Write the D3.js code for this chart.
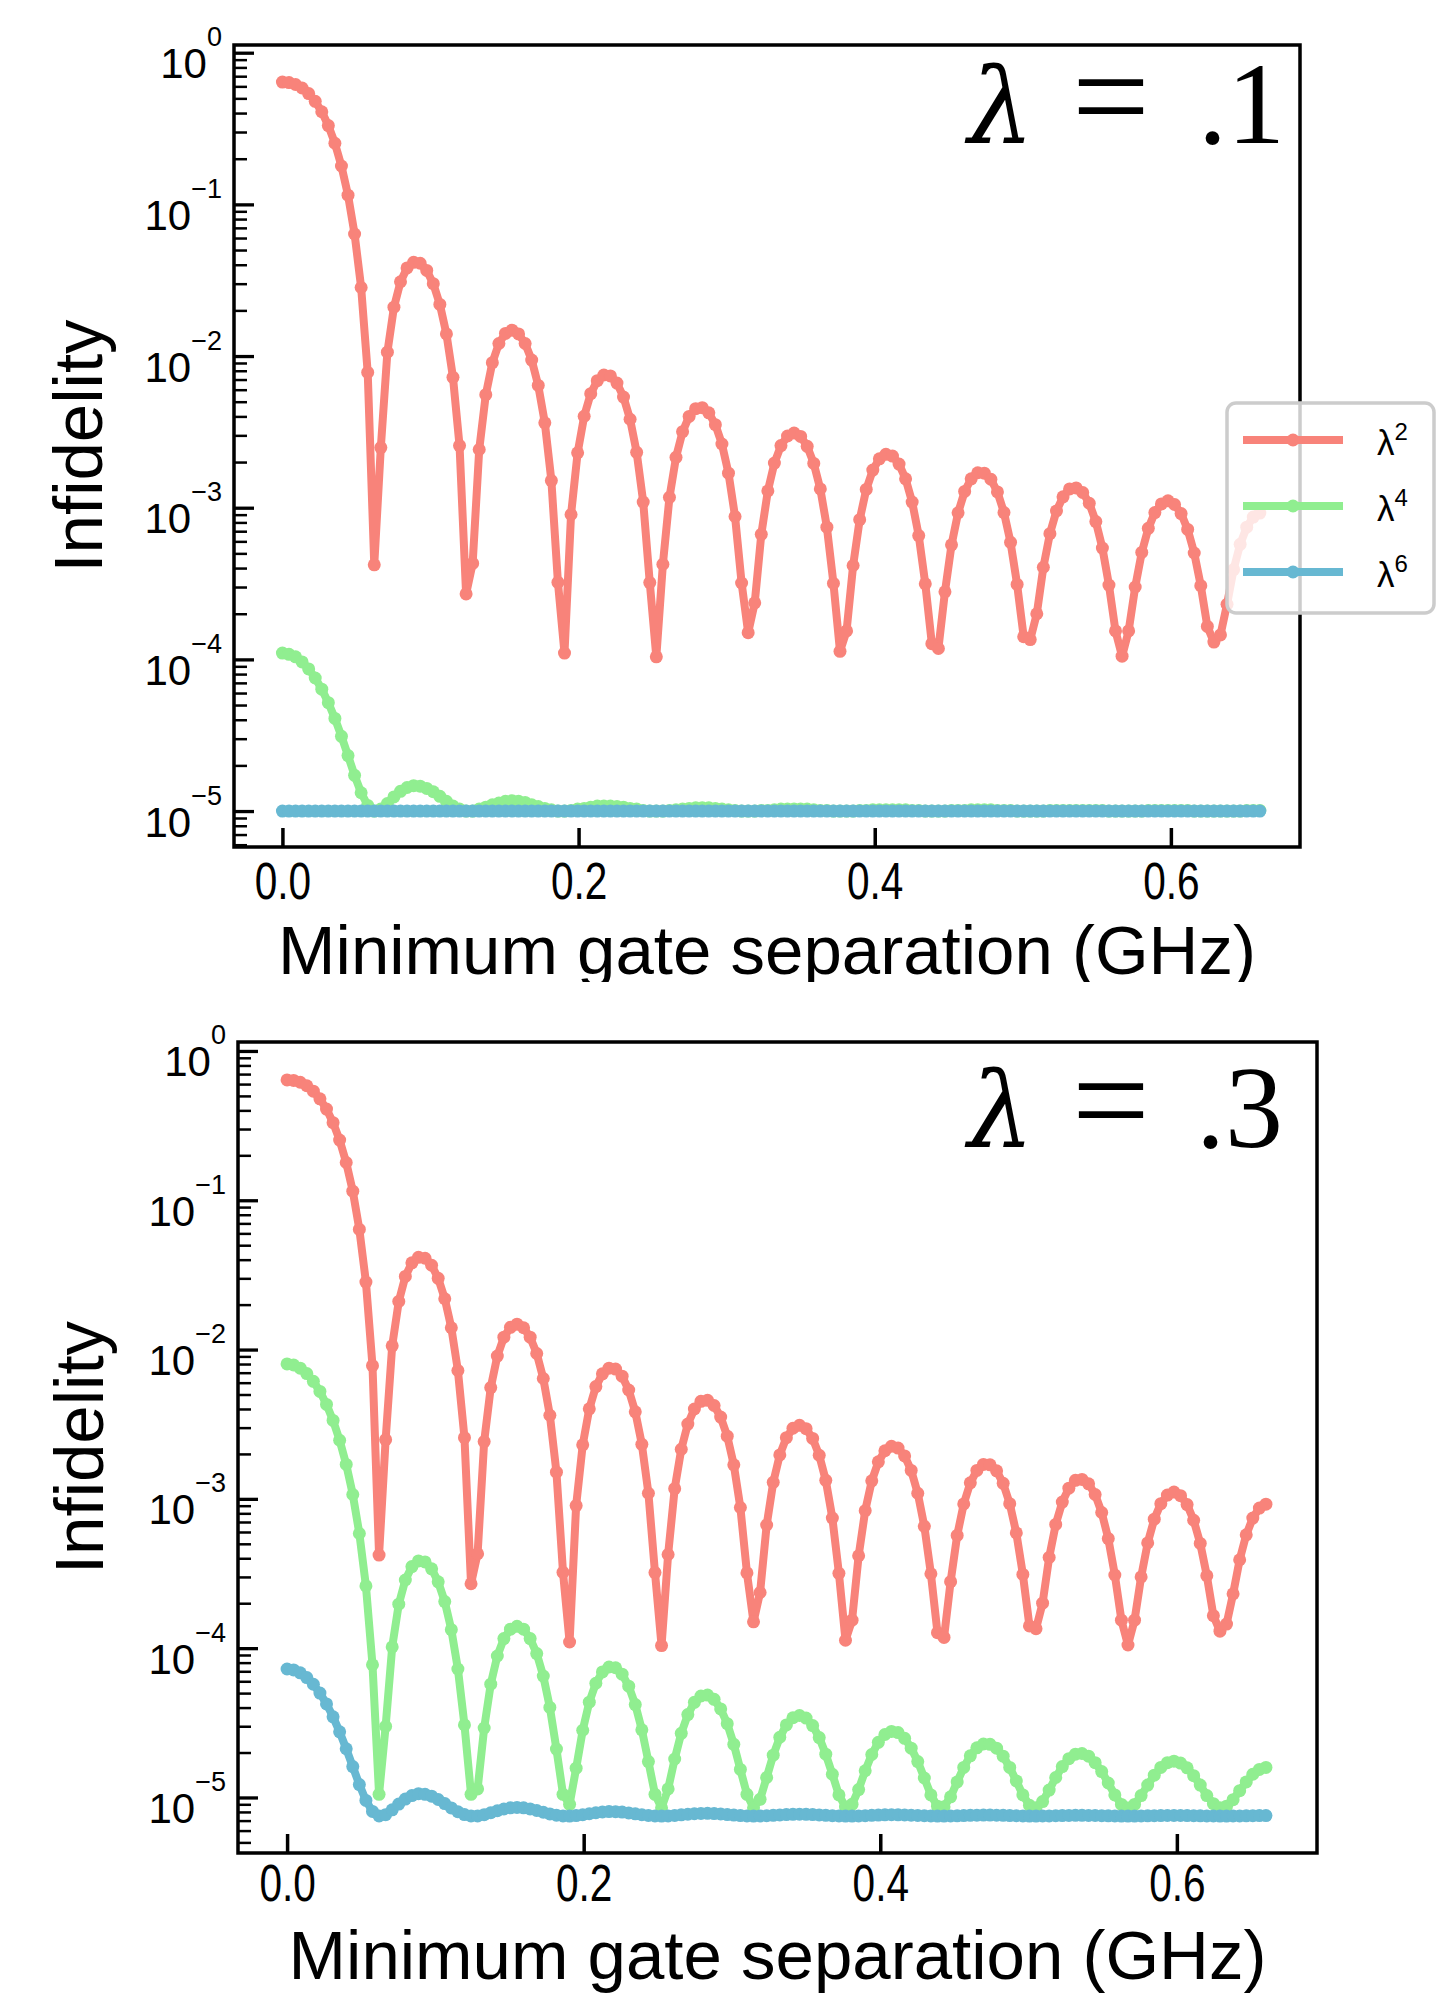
<!DOCTYPE html>
<html>
<head>
<meta charset="utf-8">
<script src="https://cdn.jsdelivr.net/npm/d3@7"></script>
<style>
  body { margin: 0; background: #fff; }
  svg { display: block; }
  text { font-family: "Liberation Sans", Arial, Helvetica, sans-serif; fill: #000; }
</style>
</head>
<body>
<svg id="fig" width="1442" height="2004"></svg>
<script>
// sample spacing of the gate separation grid (GHz)
const xStep = 0.00443;

// lambda^2 term, same in both panels
const lam2 = [
  0.640, 0.635, 0.617, 0.585, 0.538, 0.478, 0.408, 0.331, 0.253, 0.179, 0.115, 0.0638, 0.0283, 0.0078, 4.2e-4,
  2.49e-3, 0.0106, 0.0210, 0.0309, 0.0381, 0.0415, 0.0409, 0.0367, 0.0300, 0.0219, 0.0140, 7.24e-3, 2.57e-3, 2.7e-4, 4.29e-4,
  2.42e-3, 5.56e-3, 9.04e-3, 0.0121, 0.0141, 0.0148, 0.0140, 0.0121, 9.41e-3, 6.40e-3, 3.63e-3, 1.51e-3, 3.22e-4, 1.1e-4, 9.02e-4,
  2.30e-3, 4.01e-3, 5.65e-3, 6.88e-3, 7.50e-3, 7.40e-3, 6.63e-3, 5.36e-3, 3.83e-3, 2.32e-3, 1.09e-3, 3.21e-4, 1.04e-4, 4.24e-4, 1.17e-3,
  2.15e-3, 3.17e-3, 4.00e-3, 4.50e-3, 4.57e-3, 4.22e-3, 3.53e-3, 2.63e-3, 1.69e-3, 8.75e-4, 3.19e-4, 1.5e-4, 2.36e-4, 6.68e-4, 1.29e-3,
  1.97e-3, 2.57e-3, 2.97e-3, 3.11e-3, 2.95e-3, 2.54e-3, 1.96e-3, 1.33e-3, 7.44e-4, 3.17e-4, 1.13e-4, 1.54e-4, 4.16e-4, 8.34e-4, 1.32e-3,
  1.77e-3, 2.10e-3, 2.25e-3, 2.19e-3, 1.94e-3, 1.55e-3, 1.09e-3, 6.55e-4, 3.15e-4, 1.27e-4, 1.18e-4, 2.79e-4, 5.69e-4, 9.25e-4, 1.28e-3,
  1.55e-3, 1.70e-3, 1.69e-3, 1.54e-3, 1.27e-3, 9.29e-4, 5.91e-4, 3.12e-4, 1.41e-4, 1.35e-4, 2.00e-4, 4.05e-4, 6.74e-4, 9.52e-4, 1.18e-3,
  1.33e-3, 1.35e-3, 1.26e-3, 1.07e-3, 8.10e-4, 5.42e-4, 3.09e-4, 1.54e-4, 1.05e-4, 1.54e-4, 3.00e-4, 5.07e-4, 7.31e-4, 9.29e-4, 1.06e-3,
  1.11e-3, 1.05e-3, 9.15e-4, 7.19e-4, 5.03e-4, 3.06e-4, 1.65e-4, 1.30e-4, 1.45e-4, 2.31e-4, 3.91e-4, 5.74e-4, 7.44e-4, 8.68e-4, 9.22e-4
];

// lambda = .1 panel
const lam4Top = [
  1.10e-4, 1.08e-4, 1.04e-4, 9.62e-5, 8.65e-5, 7.54e-5, 6.36e-5, 5.18e-5, 4.08e-5, 3.11e-5, 2.32e-5, 1.72e-5, 1.32e-5, 1.09e-5, 1.00e-5,
  1.03e-5, 1.12e-5, 1.24e-5, 1.35e-5, 1.43e-5, 1.47e-5, 1.46e-5, 1.41e-5, 1.34e-5, 1.25e-5, 1.16e-5, 1.08e-5, 1.03e-5, 1.00e-5, 1.00e-5,
  1.03e-5, 1.06e-5, 1.10e-5, 1.13e-5, 1.16e-5, 1.17e-5, 1.16e-5, 1.14e-5, 1.10e-5, 1.07e-5, 1.04e-5, 1.02e-5, 1.00e-5, 1.00e-5, 1.01e-5,
  1.03e-5, 1.04e-5, 1.06e-5, 1.08e-5, 1.08e-5, 1.08e-5, 1.07e-5, 1.06e-5, 1.04e-5, 1.03e-5, 1.01e-5, 1.00e-5, 1.00e-5, 1.00e-5, 1.01e-5,
  1.02e-5, 1.03e-5, 1.04e-5, 1.05e-5, 1.05e-5, 1.05e-5, 1.04e-5, 1.03e-5, 1.02e-5, 1.01e-5, 1.00e-5, 1.00e-5, 1.00e-5, 1.01e-5, 1.01e-5,
  1.02e-5, 1.03e-5, 1.03e-5, 1.03e-5, 1.03e-5, 1.03e-5, 1.02e-5, 1.01e-5, 1.01e-5, 1.00e-5, 1.00e-5, 1.00e-5, 1.00e-5, 1.01e-5, 1.01e-5,
  1.02e-5, 1.02e-5, 1.02e-5, 1.02e-5, 1.02e-5, 1.02e-5, 1.01e-5, 1.01e-5, 1.00e-5, 1.00e-5, 1.00e-5, 1.00e-5, 1.01e-5, 1.01e-5, 1.01e-5,
  1.02e-5, 1.02e-5, 1.02e-5, 1.02e-5, 1.01e-5, 1.01e-5, 1.01e-5, 1.00e-5, 1.00e-5, 1.00e-5, 1.00e-5, 1.00e-5, 1.01e-5, 1.01e-5, 1.01e-5,
  1.01e-5, 1.01e-5, 1.01e-5, 1.01e-5, 1.01e-5, 1.01e-5, 1.00e-5, 1.00e-5, 1.00e-5, 1.00e-5, 1.00e-5, 1.00e-5, 1.01e-5, 1.01e-5, 1.01e-5,
  1.01e-5, 1.01e-5, 1.01e-5, 1.01e-5, 1.00e-5, 1.00e-5, 1.00e-5, 1.00e-5, 1.00e-5, 1.00e-5, 1.00e-5, 1.00e-5, 1.01e-5, 1.01e-5, 1.01e-5
];
const lam6Top = [
  1e-5, 1e-5, 1e-5, 1e-5, 1e-5, 1e-5, 1e-5, 1e-5, 1e-5, 1e-5, 1e-5, 1e-5, 1e-5, 1e-5, 1e-5,
  1e-5, 1e-5, 1e-5, 1e-5, 1e-5, 1e-5, 1e-5, 1e-5, 1e-5, 1e-5, 1e-5, 1e-5, 1e-5, 1e-5, 1e-5,
  1e-5, 1e-5, 1e-5, 1e-5, 1e-5, 1e-5, 1e-5, 1e-5, 1e-5, 1e-5, 1e-5, 1e-5, 1e-5, 1e-5, 1e-5,
  1e-5, 1e-5, 1e-5, 1e-5, 1e-5, 1e-5, 1e-5, 1e-5, 1e-5, 1e-5, 1e-5, 1e-5, 1e-5, 1e-5, 1e-5,
  1e-5, 1e-5, 1e-5, 1e-5, 1e-5, 1e-5, 1e-5, 1e-5, 1e-5, 1e-5, 1e-5, 1e-5, 1e-5, 1e-5, 1e-5,
  1e-5, 1e-5, 1e-5, 1e-5, 1e-5, 1e-5, 1e-5, 1e-5, 1e-5, 1e-5, 1e-5, 1e-5, 1e-5, 1e-5, 1e-5,
  1e-5, 1e-5, 1e-5, 1e-5, 1e-5, 1e-5, 1e-5, 1e-5, 1e-5, 1e-5, 1e-5, 1e-5, 1e-5, 1e-5, 1e-5,
  1e-5, 1e-5, 1e-5, 1e-5, 1e-5, 1e-5, 1e-5, 1e-5, 1e-5, 1e-5, 1e-5, 1e-5, 1e-5, 1e-5, 1e-5,
  1e-5, 1e-5, 1e-5, 1e-5, 1e-5, 1e-5, 1e-5, 1e-5, 1e-5, 1e-5, 1e-5, 1e-5, 1e-5, 1e-5, 1e-5,
  1e-5, 1e-5, 1e-5, 1e-5, 1e-5, 1e-5, 1e-5, 1e-5, 1e-5, 1e-5, 1e-5, 1e-5, 1e-5, 1e-5, 1e-5
];

// lambda = .3 panel
const lam4Bot = [
  8.01e-3, 7.88e-3, 7.50e-3, 6.90e-3, 6.13e-3, 5.24e-3, 4.29e-3, 3.35e-3, 2.47e-3, 1.70e-3, 1.07e-3, 5.86e-4, 2.61e-4, 7.74e-5, 1.05e-5,
  2.99e-5, 1.02e-4, 1.97e-4, 2.86e-4, 3.52e-4, 3.84e-4, 3.78e-4, 3.40e-4, 2.78e-4, 2.05e-4, 1.33e-4, 7.25e-5, 3.06e-5, 1.05e-5, 1.14e-5,
  2.92e-5, 5.74e-5, 8.86e-5, 1.16e-4, 1.34e-4, 1.40e-4, 1.34e-4, 1.16e-4, 9.20e-5, 6.50e-5, 4.01e-5, 2.11e-5, 1.05e-5, 8.99e-6, 1.57e-5,
  2.82e-5, 4.35e-5, 5.82e-5, 6.93e-5, 7.48e-5, 7.39e-5, 6.70e-5, 5.56e-5, 4.19e-5, 2.84e-5, 1.74e-5, 1.05e-5, 8.53e-6, 1.14e-5, 1.81e-5,
  2.69e-5, 3.59e-5, 4.34e-5, 4.78e-5, 4.85e-5, 4.54e-5, 3.92e-5, 3.12e-5, 2.27e-5, 1.54e-5, 1.05e-5, 8.52e-6, 9.72e-6, 1.36e-5, 1.92e-5,
  2.53e-5, 3.06e-5, 3.42e-5, 3.54e-5, 3.40e-5, 3.03e-5, 2.52e-5, 1.95e-5, 1.43e-5, 1.04e-5, 8.62e-6, 8.99e-6, 1.13e-5, 1.51e-5, 1.94e-5,
  2.34e-5, 2.64e-5, 2.77e-5, 2.72e-5, 2.49e-5, 2.14e-5, 1.74e-5, 1.35e-5, 1.04e-5, 8.74e-6, 8.66e-6, 1.01e-5, 1.27e-5, 1.59e-5, 1.90e-5,
  2.15e-5, 2.28e-5, 2.27e-5, 2.14e-5, 1.89e-5, 1.59e-5, 1.29e-5, 1.04e-5, 8.87e-6, 8.53e-6, 9.39e-6, 1.12e-5, 1.36e-5, 1.61e-5, 1.82e-5,
  1.95e-5, 1.97e-5, 1.89e-5, 1.71e-5, 1.49e-5, 1.25e-5, 1.04e-5, 8.98e-6, 8.50e-6, 8.98e-6, 1.03e-5, 1.21e-5, 1.41e-5, 1.59e-5, 1.71e-5,
  1.75e-5, 1.70e-5, 1.58e-5, 1.40e-5, 1.21e-5, 1.03e-5, 9.08e-6, 8.52e-6, 8.74e-6, 9.67e-6, 1.11e-5, 1.27e-5, 1.43e-5, 1.54e-5, 1.59e-5
];
const lam6Bot = [
  7.25e-5, 7.15e-5, 6.84e-5, 6.35e-5, 5.73e-5, 5.00e-5, 4.23e-5, 3.47e-5, 2.75e-5, 2.12e-5, 1.61e-5, 1.22e-5, 9.55e-6, 8.06e-6, 7.52e-6,
  7.67e-6, 8.26e-6, 9.03e-6, 9.76e-6, 1.03e-5, 1.06e-5, 1.05e-5, 1.02e-5, 9.69e-6, 9.10e-6, 8.51e-6, 8.02e-6, 7.68e-6, 7.52e-6, 7.52e-6,
  7.67e-6, 7.90e-6, 8.15e-6, 8.37e-6, 8.52e-6, 8.57e-6, 8.52e-6, 8.38e-6, 8.18e-6, 7.96e-6, 7.76e-6, 7.60e-6, 7.52e-6, 7.50e-6, 7.56e-6,
  7.66e-6, 7.78e-6, 7.90e-6, 7.99e-6, 8.04e-6, 8.03e-6, 7.98e-6, 7.88e-6, 7.77e-6, 7.66e-6, 7.57e-6, 7.52e-6, 7.50e-6, 7.52e-6, 7.58e-6,
  7.65e-6, 7.72e-6, 7.78e-6, 7.82e-6, 7.83e-6, 7.80e-6, 7.75e-6, 7.68e-6, 7.62e-6, 7.56e-6, 7.52e-6, 7.50e-6, 7.51e-6, 7.54e-6, 7.59e-6,
  7.64e-6, 7.68e-6, 7.71e-6, 7.72e-6, 7.71e-6, 7.68e-6, 7.64e-6, 7.59e-6, 7.55e-6, 7.52e-6, 7.50e-6, 7.50e-6, 7.52e-6, 7.55e-6, 7.59e-6,
  7.62e-6, 7.65e-6, 7.66e-6, 7.65e-6, 7.63e-6, 7.61e-6, 7.57e-6, 7.54e-6, 7.52e-6, 7.50e-6, 7.50e-6, 7.51e-6, 7.53e-6, 7.56e-6, 7.59e-6,
  7.61e-6, 7.62e-6, 7.62e-6, 7.60e-6, 7.59e-6, 7.56e-6, 7.54e-6, 7.52e-6, 7.50e-6, 7.50e-6, 7.51e-6, 7.52e-6, 7.54e-6, 7.56e-6, 7.58e-6,
  7.59e-6, 7.59e-6, 7.58e-6, 7.57e-6, 7.55e-6, 7.53e-6, 7.52e-6, 7.50e-6, 7.50e-6, 7.50e-6, 7.52e-6, 7.53e-6, 7.55e-6, 7.56e-6, 7.57e-6,
  7.57e-6, 7.57e-6, 7.56e-6, 7.55e-6, 7.53e-6, 7.52e-6, 7.51e-6, 7.50e-6, 7.50e-6, 7.51e-6, 7.52e-6, 7.53e-6, 7.55e-6, 7.56e-6, 7.56e-6
];

const xTicks = [0, 0.2, 0.4, 0.6];
const yTickExps = [0, -1, -2, -3, -4, -5];
const legendLabels = ["2", "4", "6"];   // powers of lambda
const colors = ["#f8837a", "#90ee90", "#67b8d2"];

const svg = d3.select("#fig");
svg.append("rect").attr("width", 1442).attr("height", 2004).attr("fill", "#fff");

function drawPanel(p) {
  const g = svg.append("g");
  if (p.clip) {
    svg.append("clipPath").attr("id", p.id + "clip")
      .append("rect").attr("x", 0).attr("y", p.clip[0]).attr("width", 1442).attr("height", p.clip[1] - p.clip[0]);
    g.attr("clip-path", `url(#${p.id}clip)`);
  }
  const x = d3.scaleLinear().domain(p.xDom).range([p.left, p.right]);
  const y = d3.scaleLog().domain(p.yDom).range([p.bottom, p.top]);

  const line = d3.line().x((d, i) => x(i * xStep)).y(d => y(d));

  // series: line + round markers
  p.series.forEach((s, k) => {
    g.append("path").datum(s)
      .attr("d", line).attr("fill", "none")
      .attr("stroke", colors[k]).attr("stroke-width", 8)
      .attr("stroke-linejoin", "round");
    g.append("g").selectAll("circle").data(s).join("circle")
      .attr("cx", (d, i) => x(i * xStep)).attr("cy", d => y(d))
      .attr("r", 6.5).attr("fill", colors[k]);
  });

  // minor ticks on the log axis
  const minor = y.ticks(80).filter(v => Math.abs(Math.log10(v) - Math.round(Math.log10(v))) > 1e-6);
  g.append("g").attr("transform", `translate(${p.left},0)`)
    .call(d3.axisLeft(y).tickValues(minor).tickSize(-13).tickFormat(""))
    .call(a => a.select(".domain").remove())
    .selectAll("line").attr("stroke-width", 2.5);

  // major y ticks with 10^n labels
  const ya = g.append("g").attr("transform", `translate(${p.left},0)`)
    .call(d3.axisLeft(y).tickValues(yTickExps.map(e => Math.pow(10, e))).tickSize(-20).tickPadding(12).tickFormat(""));
  ya.select(".domain").remove();
  ya.selectAll("line").attr("stroke-width", 3.3);
  ya.selectAll(".tick text").each(function (d) {
    const t = d3.select(this).attr("dy", null).attr("y", 25).attr("font-size", 42).attr("font-family", null);
    const e = Math.round(Math.log10(d));
    t.append("tspan").text("10");
    t.append("tspan").attr("dy", -32).attr("font-size", 27).text(e === 0 ? "0" : "\u2212" + (-e));
  });

  // x ticks
  const xa = g.append("g").attr("transform", `translate(0,${p.bottom})`)
    .call(d3.axisBottom(x).tickValues(xTicks).tickSize(-19).tickFormat(d3.format(".1f")));
  xa.select(".domain").remove();
  xa.selectAll("line").attr("stroke-width", 3.5);
  xa.selectAll(".tick text").attr("dy", null).attr("y", p.xTickY)
    .attr("font-size", 52).attr("font-family", null).attr("transform", "scale(0.78,1)");

  // frame
  g.append("rect").attr("x", p.left).attr("y", p.top)
    .attr("width", p.right - p.left).attr("height", p.bottom - p.top)
    .attr("fill", "none").attr("stroke", "#000").attr("stroke-width", 3.5);

  // axis labels
  g.append("text").attr("x", (p.left + p.right) / 2).attr("y", p.xLabelY)
    .attr("text-anchor", "middle").attr("font-size", 69).text("Minimum gate separation (GHz)");
  g.append("text").attr("transform", `translate(${p.yLabelX},${(p.top + p.bottom) / 2}) rotate(-90)`)
    .attr("text-anchor", "middle").attr("font-size", 69).text("Infidelity");

  // lambda annotation
  const ann = g.append("g").attr("font-size", 116);
  ann.append("text").attr("x", p.annX[0]).attr("y", p.annY).attr("font-style", "italic")
    .style("font-family", "'DejaVu Serif', serif").attr("font-size", 104).text("λ");
  ann.append("text").attr("x", p.annX[1]).attr("y", p.annY).attr("font-size", 138)
    .style("font-family", "'Liberation Serif', serif").text("=");
  ann.append("text").attr("x", p.annX[2]).attr("y", p.annY).attr("text-anchor", "end")
    .style("font-family", "'Liberation Serif', serif").text(p.annText);

  if (p.legend) {
    const lg = svg.append("g");
    lg.append("rect").attr("x", 1227).attr("y", 403).attr("width", 207).attr("height", 210).attr("rx", 9)
      .attr("fill", "#fff").attr("fill-opacity", 0.8).attr("stroke", "#cccccc").attr("stroke-width", 3.5);
    legendLabels.forEach((lab, k) => {
      const yy = 440 + k * 66;
      lg.append("line").attr("x1", 1243).attr("x2", 1343).attr("y1", yy).attr("y2", yy)
        .attr("stroke", colors[k]).attr("stroke-width", 8);
      lg.append("circle").attr("cx", 1293).attr("cy", yy).attr("r", 6.5).attr("fill", colors[k]);
      const t = lg.append("text").attr("x", 1377).attr("y", yy + 15).attr("font-size", 35);
      t.append("tspan").text("λ");
      t.append("tspan").attr("dy", -15).attr("font-size", 24).text(lab);
    });
  }
}

drawPanel({
  id: "top", left: 234, right: 1300, top: 45, bottom: 847,
  xDom: [-0.0327, 0.6872], yDom: [Math.pow(10, -5.237), Math.pow(10, 0.0508)],
  series: [lam2, lam4Top, lam6Top],
  xTickY: 52, xLabelY: 974, yLabelX: 102,
  annX: [968, 1072, 1285], annY: 143, annText: ".1",
  legend: true, clip: [0, 982]
});

drawPanel({
  id: "bot", left: 238, right: 1317, top: 1042, bottom: 1853,
  xDom: [-0.0331, 0.6945], yDom: [Math.pow(10, -5.372), Math.pow(10, 0.060)],
  series: [lam2, lam4Bot, lam6Bot],
  xTickY: 48, xLabelY: 1979, yLabelX: 103,
  annX: [968, 1072, 1283], annY: 1147, annText: ".3",
  legend: false, clip: [982, 2004]
});
</script>
</body>
</html>
